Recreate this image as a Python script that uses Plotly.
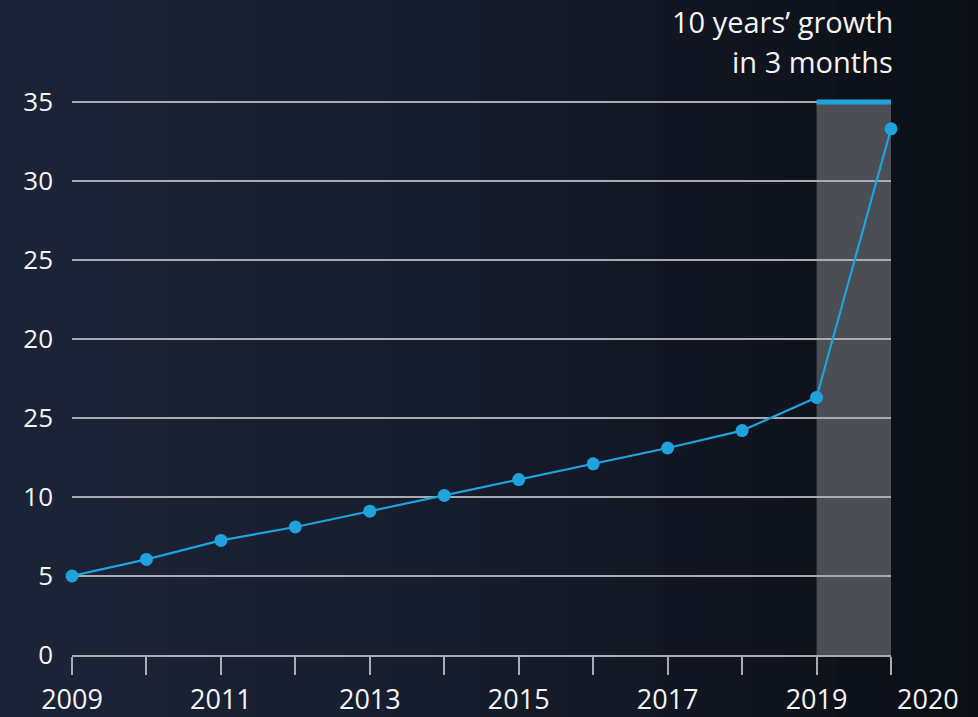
import plotly.graph_objects as go

years = [2009, 2010, 2011, 2012, 2013, 2014, 2015, 2016, 2017, 2018, 2019, 2020]
values = [5.0, 6.05, 7.25, 8.1, 9.1, 10.1, 11.1, 12.1, 13.1, 14.2, 16.3, 33.3]

y_tickvals = [0, 5, 10, 15, 20, 25, 30, 35]
y_ticktext = ["0", "5", "10", "25", "20", "25", "30", "35"]
x_tickvals = years
x_ticktext = ["2009", "", "2011", "", "2013", "", "2015", "", "2017", "", "2019", ""]
highlight_start, highlight_end = 2019, 2020
highlight_top = 35
title_lines = ["10 years’ growth", "in 3 months"]

BLUE = "#1ea3df"
FONT = "Open Sans"
TXT = "#f4f4f4"

fig = go.Figure()
fig.add_trace(go.Scatter(
    x=years, y=values, mode="lines+markers",
    line=dict(color=BLUE, width=2.2),
    marker=dict(color=BLUE, size=13),
    cliponaxis=False, showlegend=False, hoverinfo="x+y",
))
# blue bar on top of highlighted period
fig.add_trace(go.Scatter(
    x=[highlight_start, highlight_end], y=[highlight_top, highlight_top], mode="lines",
    line=dict(color=BLUE, width=5), cliponaxis=False, showlegend=False, hoverinfo="skip",
))

# subtle background gradient (navy on the left, darker to the right)
def lerp(c1, c2, t):
    a = [int(c1[i:i + 2], 16) for i in (1, 3, 5)]
    b = [int(c2[i:i + 2], 16) for i in (1, 3, 5)]
    return "#%02x%02x%02x" % tuple(round(a[k] + (b[k] - a[k]) * t) for k in range(3))

shapes = []
n = 24
for i in range(n):
    t = i / (n - 1)
    shapes.append(dict(type="rect", xref="paper", yref="paper",
                       x0=-0.1 + t * 1.25, x1=1.2, y0=-0.2, y1=1.2,
                       fillcolor=lerp("#1b2336", "#090c12", t ** 1.4),
                       line=dict(width=0), layer="below"))
# highlighted period
shapes.append(dict(type="rect", xref="x", yref="y", x0=highlight_start, x1=highlight_end,
                   y0=0, y1=highlight_top, fillcolor="#4b4e54", line=dict(width=0), layer="below"))

annotations = [
    dict(x=2020, y=0, xref="x", yref="y", text="2020", showarrow=False,
         xanchor="left", yanchor="top", xshift=4, yshift=-23,
         font=dict(family=FONT, size=27, color=TXT, weight=500)),
    dict(x=2020, y=35, xref="x", yref="y", text=title_lines[0], showarrow=False,
         xanchor="right", yanchor="middle", xshift=4, yshift=80,
         font=dict(family=FONT, size=29, color=TXT, weight=500)),
    dict(x=2020, y=35, xref="x", yref="y", text=title_lines[1], showarrow=False,
         xanchor="right", yanchor="middle", xshift=4, yshift=40,
         font=dict(family=FONT, size=29, color=TXT, weight=500)),
]

fig.update_layout(
    width=978, height=717,
    margin=dict(l=72, r=87, t=98, b=62, autoexpand=False),
    paper_bgcolor="#151b28",
    plot_bgcolor="rgba(0,0,0,0)",
    shapes=shapes,
    annotations=annotations,
    xaxis=dict(
        range=[2009, 2020], tickvals=x_tickvals, ticktext=x_ticktext,
        showgrid=False, zeroline=False, automargin=False,
        showline=True, linecolor="#a9acb2", linewidth=2,
        ticks="outside", ticklen=18, tickwidth=2, tickcolor="#a9acb2",
        tickfont=dict(family=FONT, size=27, color=TXT, weight=500),
        ticklabelstandoff=2,
    ),
    yaxis=dict(
        range=[0, 35.25], tickvals=y_tickvals, ticktext=y_ticktext,
        showgrid=True, gridcolor="#a8abb2", gridwidth=1.6,
        zeroline=False, showline=False, ticks="", automargin=False,
        tickfont=dict(family=FONT, size=26, color=TXT, weight=500),
        ticklabelstandoff=18,
    ),
)

fig.write_html("out.html", config={"displayModeBar": False},
               post_script="document.body.style.margin='0';")
